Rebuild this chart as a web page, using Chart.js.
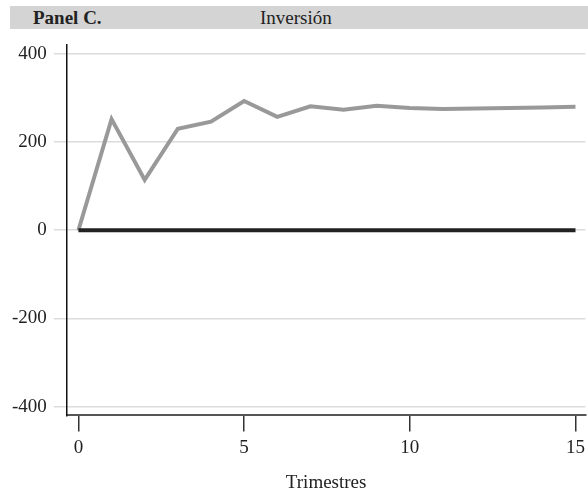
<!DOCTYPE html>
<html>
<head>
<meta charset="utf-8">
<script src="https://cdn.jsdelivr.net/npm/chart.js@4.4.1/dist/chart.umd.min.js"></script>
<style>
  html, body { margin: 0; padding: 0; background: #fff; overflow: hidden; }
  #wrap { position: relative; width: 588px; height: 494px; overflow: hidden; }
  #header {
    position: absolute; left: 10px; top: 6px; width: 578px; height: 23px;
    background: #d4d4d4; font-family: "Liberation Serif", "DejaVu Serif", serif;
    font-size: 19px; color: #222; line-height: 23px;
  }
  #header .panel { position: absolute; left: 23px; top: 0; font-weight: bold; }
  #header .title { position: absolute; left: 250px; top: 0; }
  canvas { position: absolute; left: 0; top: 0; }
</style>
</head>
<body>
<div id="wrap">
  <canvas id="grafico" width="590" height="494"></canvas>
  <div id="header"><span class="panel">Panel C.</span><span class="title">Inversión</span></div>
</div>
<script>
// Datos (trimestres 0..15)
const trimestres = [0, 1, 2, 3, 4, 5, 6, 7, 8, 9, 10, 11, 12, 13, 14, 15];
const inversion = [0, 252, 114, 230, 246, 293, 257, 281, 273, 282, 277, 275, 276, 277, 278, 280];
const referencia = [0, 0, 0, 0, 0, 0, 0, 0, 0, 0, 0, 0, 0, 0, 0, 0];
const xTicks = [0, 5, 10, 15];
const yTicks = [-400, -200, 0, 200, 400];

const fuente = { family: '"Liberation Serif", "DejaVu Serif", serif', size: 19 };

new Chart(document.getElementById('grafico'), {
    type: 'line',
    data: {
        datasets: [
            {
                label: 'Referencia',
                data: trimestres.map((t, i) => ({ x: t, y: referencia[i] })),
                borderColor: '#222',
                borderWidth: 4,
                pointRadius: 0,
                tension: 0
            },
            {
                label: 'Inversión',
                data: trimestres.map((t, i) => ({ x: t, y: inversion[i] })),
                borderColor: '#999',
                borderWidth: 4,
                pointRadius: 0,
                tension: 0
            }
        ]
    },
    options: {
        responsive: false,
        animation: false,
        layout: { padding: { top: 45, right: 0, left: 5, bottom: 0 } },
        plugins: { legend: { display: false }, tooltip: { enabled: false } },
        scales: {
            x: {
                type: 'linear',
                min: -0.35,
                max: 15.3,
                afterBuildTicks: ax => { ax.ticks = xTicks.map(v => ({ value: v })); },
                grid: { drawOnChartArea: false, drawTicks: true, tickLength: 16, color: '#333', lineWidth: 1.5 },
                border: { display: true, color: '#555', width: 2 },
                ticks: { color: '#222', font: fuente, padding: 5, maxRotation: 0 },
                title: { display: true, text: 'Trimestres', color: '#222', font: fuente, padding: { top: 7, bottom: 0 } }
            },
            y: {
                min: -420,
                max: 420,
                afterBuildTicks: ax => { ax.ticks = yTicks.map(v => ({ value: v })); },
                grid: { color: '#dcdcdc', lineWidth: 1.5, tickLength: 13 },
                border: { display: true, color: '#111', width: 1.5 },
                ticks: { color: '#222', font: fuente, padding: 7 }
            }
        }
    }
});
</script>
</body>
</html>
